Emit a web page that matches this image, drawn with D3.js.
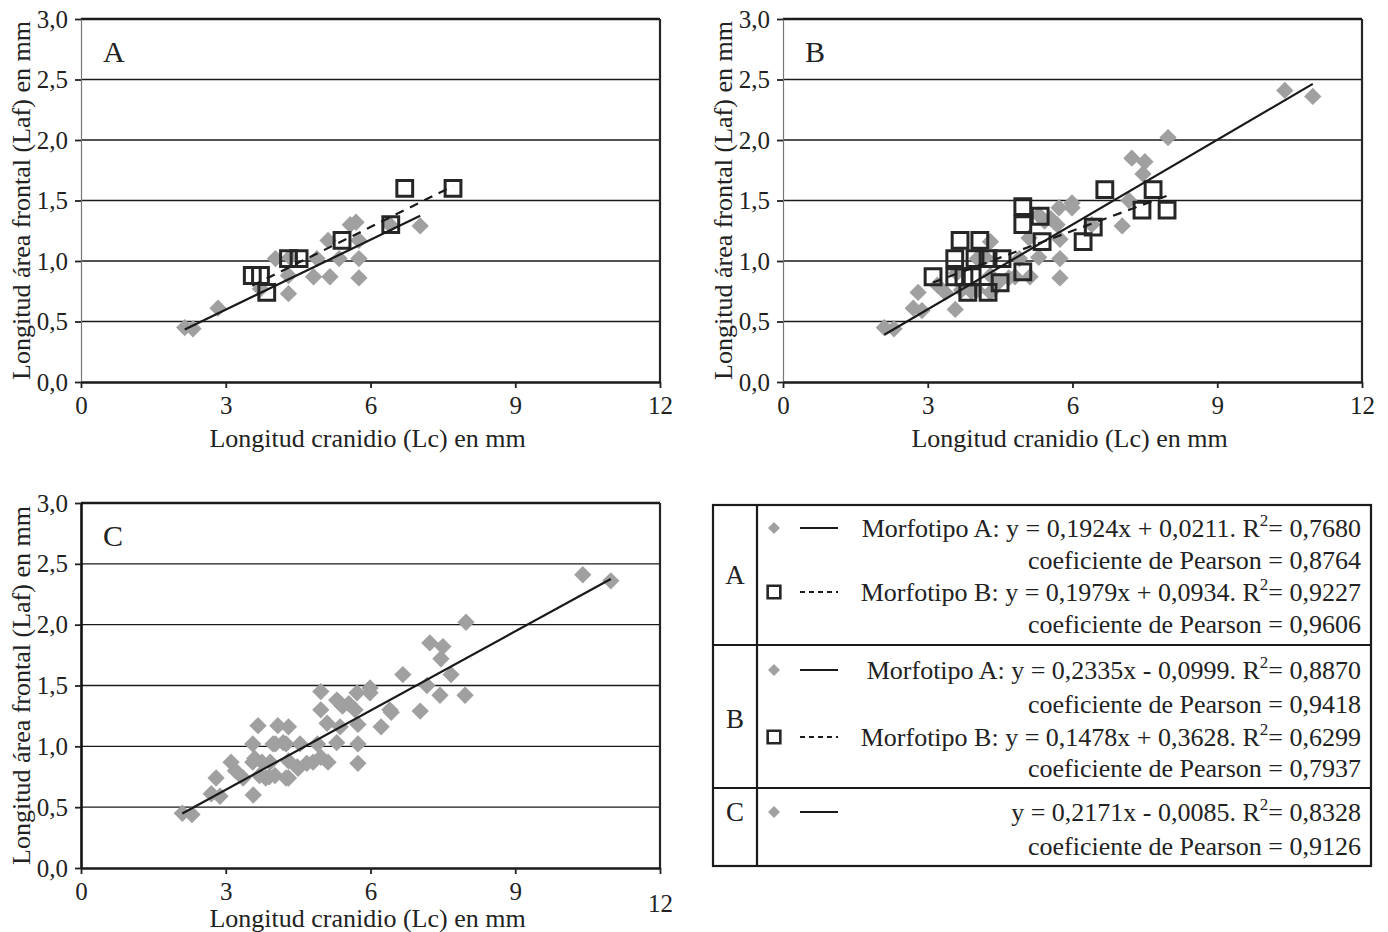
<!DOCTYPE html>
<html>
<head>
<meta charset="utf-8">
<script src="https://cdn.jsdelivr.net/npm/d3@7"></script>
<style>
    body { margin: 0; background: #fff; }
    svg text { font-family: 'Liberation Serif', 'Times New Roman', serif; fill: #222; }
</style>
</head>
<body>
<svg id="chart" width="1388" height="932"></svg>
<script>
const xTicks = [0, 3, 6, 9, 12];
const yTicks = [0, 0.5, 1, 1.5, 2, 2.5, 3];
const xTitle = 'Longitud cranidio (Lc) en mm';
const yTitle = 'Longitud área frontal (Laf) en mm';

// panel A: [Lc, Laf]
const aMorfA = [
    [2.15, 0.45], [2.32, 0.44], [2.84, 0.61], [3.72, 0.77], [4.03, 1.02],
    [4.3, 0.88], [4.3, 0.73], [4.33, 1.03], [4.82, 0.87], [4.89, 1.02],
    [5.16, 0.87], [5.12, 1.17], [5.35, 1.02], [5.58, 1.3], [5.7, 1.32],
    [5.76, 1.17], [5.76, 1.02], [5.76, 0.86], [6.4, 1.3], [7.03, 1.29],
];
const aMorfB = [
    [3.55, 0.88], [3.72, 0.88], [3.85, 0.74], [4.3, 1.02], [4.52, 1.02],
    [5.41, 1.17], [6.42, 1.3], [6.71, 1.6], [7.71, 1.6],
];

// panel B
const bMorfA = [
    [2.1, 0.45], [2.3, 0.44], [2.7, 0.61], [2.8, 0.74], [2.88, 0.59],
    [3.2, 0.8], [3.36, 0.74], [3.57, 0.6], [3.6, 0.9], [3.7, 0.76],
    [3.9, 0.75], [4.03, 1.02], [4.02, 0.76], [4.3, 0.74], [4.3, 1.16],
    [4.19, 1.03], [4.3, 0.88], [4.48, 0.83], [4.68, 0.86], [4.81, 0.87],
    [4.9, 1.02], [5.12, 0.87], [5.1, 1.19], [5.3, 1.03], [5.3, 1.38],
    [5.42, 1.33], [5.55, 1.35], [5.68, 1.3], [5.72, 1.44], [5.74, 1.18],
    [5.74, 1.02], [5.74, 0.86], [5.99, 1.48], [5.99, 1.44], [6.4, 1.3],
    [7.03, 1.29], [7.17, 1.5], [7.23, 1.85], [7.5, 1.82], [7.46, 1.72],
    [7.98, 2.02], [10.4, 2.41], [10.98, 2.36],
];
const bMorfB = [
    [3.11, 0.87], [3.56, 0.87], [3.75, 0.87], [3.92, 0.87], [3.56, 1.02],
    [3.67, 1.17], [3.83, 0.74], [3.98, 1.02], [4.08, 1.17], [4.25, 1.02],
    [4.25, 0.74], [4.5, 0.82], [4.54, 1.02], [4.97, 0.91], [4.97, 1.45],
    [4.97, 1.3], [5.33, 1.37], [5.37, 1.16], [6.22, 1.16], [6.43, 1.28],
    [6.67, 1.59], [7.44, 1.42], [7.67, 1.59], [7.96, 1.42],
];

// panel C: all crania of panel B together
const cAll = bMorfA.concat(bMorfB);

// regression lines (slope, intercept)
const fitSlopes = [0.1924, 0.1979, 0.2335, 0.1478, 0.2171];
const fitIntercepts = [0.0211, 0.0934, -0.0999, 0.3628, -0.0085];

// legend texts
const legendGroups = ['A', 'B', 'C'];
const eqLabels = [
    'Morfotipo A: y = 0,1924x + 0,0211. R',
    'Morfotipo B: y = 0,1979x + 0,0934. R',
    'Morfotipo A: y = 0,2335x - 0,0999. R',
    'Morfotipo B: y = 0,1478x + 0,3628. R',
    'y = 0,2171x - 0,0085. R',
];
const r2Labels = ['0,7680', '0,9227', '0,8870', '0,6299', '0,8328'];
const pearsonLabels = ['0,8764', '0,9606', '0,9418', '0,7937', '0,9126'];

const grey = '#a0a0a0';
const dark = '#262626';
const svg = d3.select('#chart');

const diamond = d3.symbol(d3.symbolSquare, 150);
const square = d3.symbol(d3.symbolSquare, 250);

function drawPanel(left, top, h, letter, series, opts) {
    const w = 579;
    const x = d3.scaleLinear().domain([0, 12]).range([left, left + w]);
    const y = d3.scaleLinear().domain([0, 3]).range([top + h, top]);
    const g = svg.append('g');

    // grid
    g.selectAll('.grid')
        .data(yTicks.filter((d) => d > 0))
        .enter()
        .append('line')
        .attr('x1', x(0))
        .attr('x2', x(12))
        .attr('y1', (d) => y(d))
        .attr('y2', (d) => y(d))
        .attr('stroke', '#1a1a1a')
        .attr('stroke-width', (d) => (d === 3 ? 2.6 : 1.3));

    // right border
    g.append('line')
        .attr('x1', x(12)).attr('x2', x(12))
        .attr('y1', y(3)).attr('y2', y(0))
        .attr('stroke', dark)
        .attr('stroke-width', 2.2);

    const fmt = (d) => d3.format('.1f')(d).replace('.', ',');
    const yAxis = g.append('g')
        .attr('transform', `translate(${x(0)},0)`)
        .call(d3.axisLeft(y).tickValues(yTicks).tickSize(6).tickSizeOuter(0).tickPadding(7).tickFormat(fmt));
    yAxis.select('.domain')
        .attr('stroke', opts.darkAxis ? '#111' : '#777')
        .attr('stroke-width', opts.darkAxis ? 2.6 : 1.2);
    yAxis.selectAll('.tick line').attr('stroke', '#222').attr('stroke-width', 1.8);
    yAxis.selectAll('text').attr('font-size', 25).style('font-family', 'Liberation Serif');

    const xAxis = g.append('g')
        .attr('transform', `translate(0,${y(0)})`)
        .call(d3.axisBottom(x).tickValues(xTicks).tickSize(6).tickSizeOuter(0).tickPadding(8).tickFormat(d3.format('d')));
    xAxis.select('.domain').attr('stroke', '#1a1a1a').attr('stroke-width', 2.6);
    xAxis.selectAll('.tick line').attr('stroke', '#222').attr('stroke-width', 1.8);
    xAxis.selectAll('text').attr('font-size', 25).style('font-family', 'Liberation Serif');
    if (opts.lowLast) {
        xAxis.selectAll('.tick')
            .filter((d) => d === 12)
            .select('text')
            .attr('y', 26);
    }

    // marks
    series.forEach((s) => {
        g.append('g')
            .selectAll('path')
            .data(s.points)
            .enter()
            .append('path')
            .attr('d', s.type === 'diamond' ? diamond : square)
            .attr('transform', (d) => `translate(${x(d[0])},${y(d[1])})` + (s.type === 'diamond' ? ' rotate(45)' : ''))
            .attr('fill', s.type === 'diamond' ? grey : 'none')
            .attr('stroke', s.type === 'diamond' ? 'none' : dark)
            .attr('stroke-width', 3);
    });
    series.forEach((s) => {
        const ext = d3.extent(s.points, (d) => d[0]);
        const line = ext.map((v) => [v, fitSlopes[s.fit] * v + fitIntercepts[s.fit]]);
        g.append('path')
            .datum(line)
            .attr('d', d3.line().x((d) => x(d[0])).y((d) => y(d[1])))
            .attr('fill', 'none')
            .attr('stroke', '#1a1a1a')
            .attr('stroke-width', 2.2)
            .attr('stroke-dasharray', s.type === 'square' ? '9,7' : null);
    });

    // titles
    g.append('text')
        .attr('x', x(0) + w / 2 - 3)
        .attr('y', opts.xTitleY)
        .attr('text-anchor', 'middle')
        .attr('font-size', 26)
        .text(xTitle);
    g.append('text')
        .attr('transform', `translate(${left - 51},${top + h / 2}) rotate(-90)`)
        .attr('text-anchor', 'middle')
        .attr('font-size', 26)
        .text(yTitle);
    g.append('text')
        .attr('x', left + 22)
        .attr('y', top + 43)
        .attr('font-size', 30)
        .text(letter);
}

drawPanel(81, 19, 363, 'A', [
    { points: aMorfA, type: 'diamond', fit: 0 },
    { points: aMorfB, type: 'square', fit: 1 },
], { xTitleY: 447 });

drawPanel(783, 19, 363, 'B', [
    { points: bMorfA, type: 'diamond', fit: 2 },
    { points: bMorfB, type: 'square', fit: 3 },
], { xTitleY: 447 });

drawPanel(81, 503, 365, 'C', [
    { points: cAll, type: 'diamond', fit: 4 },
], { xTitleY: 927, darkAxis: true, lowLast: true });

// legend table
const lg = svg.append('g');
const lgLeft = 713, lgRight = 1371, lgTop = 505, lgBottom = 866, lgDiv = 757;
const rowY = [528, 560, 592, 624, 670, 704, 737, 768, 812, 846];
const groupY = [575, 719, 812];
const dividerY = [645, 788];

lg.append('rect')
    .attr('x', lgLeft).attr('y', lgTop)
    .attr('width', lgRight - lgLeft).attr('height', lgBottom - lgTop)
    .attr('fill', 'none')
    .attr('stroke', '#1a1a1a')
    .attr('stroke-width', 2.2);
lg.append('line')
    .attr('x1', lgDiv).attr('x2', lgDiv)
    .attr('y1', lgTop).attr('y2', lgBottom)
    .attr('stroke', '#1a1a1a').attr('stroke-width', 2.2);
lg.selectAll('.div')
    .data(dividerY)
    .enter()
    .append('line')
    .attr('x1', lgLeft).attr('x2', lgRight)
    .attr('y1', (d) => d).attr('y2', (d) => d)
    .attr('stroke', '#1a1a1a').attr('stroke-width', 2.2);
lg.selectAll('.grp')
    .data(legendGroups)
    .enter()
    .append('text')
    .attr('x', (lgLeft + lgDiv) / 2)
    .attr('y', (d, i) => groupY[i] + 9)
    .attr('text-anchor', 'middle')
    .attr('font-size', 27)
    .text((d) => d);

const entryType = ['diamond', 'square', 'diamond', 'square', 'diamond'];
eqLabels.forEach((label, i) => {
    const yEq = rowY[i * 2];
    const yP = rowY[i * 2 + 1];
    const isDiamond = entryType[i] === 'diamond';
    lg.append('path')
        .attr('d', isDiamond ? d3.symbol(d3.symbolSquare, 72) : d3.symbol(d3.symbolSquare, 160))
        .attr('transform', `translate(774,${yEq})` + (isDiamond ? ' rotate(45)' : ''))
        .attr('fill', isDiamond ? grey : 'none')
        .attr('stroke', isDiamond ? 'none' : dark)
        .attr('stroke-width', 2.6);
    lg.append('line')
        .attr('x1', 800).attr('x2', 838)
        .attr('y1', yEq).attr('y2', yEq)
        .attr('stroke', '#1a1a1a')
        .attr('stroke-width', 2)
        .attr('stroke-dasharray', isDiamond ? null : '5,4');
    const t = lg.append('text')
        .attr('x', 1361)
        .attr('y', yEq + 9)
        .attr('text-anchor', 'end')
        .attr('font-size', 26);
    t.append('tspan').text(label);
    t.append('tspan').attr('dy', -11).attr('font-size', 17).text('2');
    t.append('tspan').attr('dy', 11).text('= ' + r2Labels[i]);
    lg.append('text')
        .attr('x', 1361)
        .attr('y', yP + 9)
        .attr('text-anchor', 'end')
        .attr('font-size', 26)
        .text('coeficiente de Pearson = ' + pearsonLabels[i]);
});
</script>
</body>
</html>
